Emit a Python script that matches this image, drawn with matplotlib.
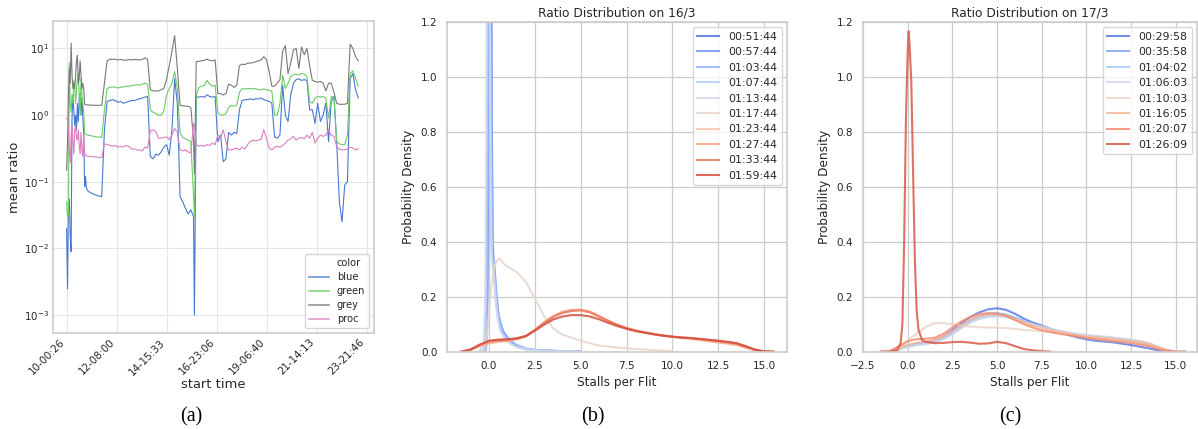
import datetime as dt
import matplotlib
matplotlib.use("Agg")
import matplotlib.pyplot as plt
from matplotlib.lines import Line2D
from matplotlib.ticker import NullLocator, LogLocator
from matplotlib import cm
import numpy as np

nan = float("nan")

# ---------------- Panel (a): mean ratio time series ----------------
start_stamp = "2020-03-10 00:26"
hours = list(range(0, 24)) + list(range(24, 142, 3)) + [142] + list(range(144, 325, 3))

blue = [
    0.02, 0.0025, 0.04, 0.055, 0.015, 0.009, 0.9, 2.0, 1.2, 0.7, 1.0, 0.6,
    1.5, 0.8, 1.8, 2.1, 1.0, 1.8, 0.9, 0.5, 0.085, 0.12, 0.08, 0.075,
    0.072, 0.068, 0.065, 0.063, 0.061, 0.06,
    0.6, 1.6, 1.65, 1.7, 1.65, 1.55, 1.6, 1.5, 1.55, 1.6, 1.65, 1.65, 1.7, 1.75, 1.8, 1.85, 1.9,
    0.24, 0.22, 0.26, 0.25, 0.28, 0.33, 0.36, 0.25, 0.6, 3.5, 1.5,
    0.06, 0.05, 0.04, 0.033, 0.038, 0.03,
    0.001,
    1.9, 1.85, 1.9, 1.85, 2.0, 1.9, 1.85, 1.9,
    0.4, 0.5, 0.2, 0.22, 0.55, 0.5, 0.55, 0.53,
    1.2, 1.65, 1.7, 1.7, 1.75, 1.7, 1.75, 1.75, 1.8, 1.7, 1.65, 1.6, 1.5,
    0.47, 0.45, 0.5,
    2.8, 1.0, 0.8, 2.0, 3.0, 3.4, 3.5, 3.3, 3.4, 3.3,
    1.2, 1.2, 0.75, 1.5, 0.8, 1.0, 1.5, 0.4, 1.6, 1.9,
    0.4, 0.05, 0.025, 0.09, 0.1, 3.5, 4.2, 2.4, 1.8,
]
green = [
    0.05, 0.03, 0.03, 6.0, 1.5, 1.1, 2.0, 1.5, 3.3, 2.5, 1.5, 2.5,
    3.5, 4.2, 2.0, 1.0, 3.5, 2.0, 1.5, 1.1, 0.53, 0.52, 0.51, 0.5,
    0.5, 0.49, 0.48, 0.47, 0.47, 0.46,
    1.2, 2.5, 2.6, 2.65, 2.6, 2.55, 2.6, 2.65, 2.7, 2.7, 2.75, 2.8, 2.85, 2.8, 2.9, 3.0, 2.9,
    1.2, 1.1, 1.05, 1.0, 1.0, 1.15, 2.0, 2.5, 3.0, 4.5, 2.5,
    0.55, 0.46, 0.44, 0.42, 0.4, 0.06,
    0.03,
    2.0, 2.6, 2.7, 2.8, 3.3, 2.9, 2.7, 2.8,
    1.1, 1.0, 1.0, 1.05, 1.3, 1.4, 1.35, 1.4,
    2.2, 2.5, 2.45, 2.5, 2.5, 2.45, 2.5, 2.4, 2.4, 2.45, 2.4, 2.35, 2.3,
    1.0, 1.0, 1.5,
    4.0, 2.5, 3.0, 3.8, 4.0, 4.1, 4.0, 4.2, 4.1, 3.8,
    1.6, 1.5, 1.8, 1.9, 1.85, 1.9, 1.8, 0.9, 1.9, 1.9,
    0.4, 0.37, 0.36, 0.36, 0.5, 4.2, 4.6, 3.5, 2.7,
]
grey = [
    0.15, 0.4, 2.0, 5.0, 3.0, 12.0, 4.0, 2.5, 3.0, 2.5, 4.0, 6.5,
    7.8, 3.0, 3.5, 6.5, 4.0, 2.5, 3.0, 2.5, 1.45, 1.43, 1.42, 1.42,
    1.42, 1.41, 1.4, 1.4, 1.4, 1.4,
    3.0, 6.5, 6.9, 6.8, 6.9, 6.7, 6.8, 6.7, 6.6, 6.8, 6.7, 6.8, 6.8, 6.7, 6.8, 7.2, 6.8,
    2.4, 2.3, 2.3, 2.3, 2.4, 2.5, 3.4, 5.5, 9.0, 15.5, 5.0,
    1.4, 1.38, 1.36, 1.35, 1.3, 0.42,
    0.13,
    6.3, 6.4, 6.5, 6.6, 6.9, 6.6, 6.5, 6.7,
    2.1, 2.1, 2.0, 2.1, 2.9, 2.8, 2.6, 2.8,
    5.5, 5.8, 5.7, 6.0, 6.0, 6.1, 6.3, 6.5, 6.7, 7.5, 6.8, 4.5, 2.7,
    2.7, 3.0, 3.4,
    9.0, 11.0, 4.2, 6.0, 9.5, 10.0, 5.0, 10.5, 8.0, 10.0,
    5.5, 3.3, 3.2, 3.1, 3.2, 3.0, 2.3, 3.0, 3.0, 2.2,
    1.5, 1.45, 1.45, 1.45, 1.5, 11.5, 10.0, 7.5, 6.5,
]
proc = [
    0.89, 0.85, 0.6, 0.3, 0.19, 0.5, 0.7, 0.4, 0.26, 0.6, 0.7, 0.45,
    0.42, 0.6, 0.35, 0.26, 0.55, 0.3, 0.24, 0.55, 0.26, 0.25, 0.25, 0.24,
    0.24, 0.24, 0.235, 0.235, 0.23, 0.23,
    0.37, 0.36, 0.35, 0.34, 0.35, 0.33, 0.34, 0.33, 0.35, 0.34, 0.31, 0.31, 0.3, 0.3, 0.29, 0.33, 0.32,
    0.58, 0.6, 0.57, 0.45, 0.45, 0.46, 0.47, 0.43, 0.5, 0.63, 0.55,
    0.3, 0.29, 0.3, 0.28, 0.27, 0.75,
    0.7,
    0.36, 0.34, 0.35, 0.34, 0.36, 0.35, 0.38, 0.36,
    0.5, 0.45, 0.6, 0.4, 0.3, 0.3, 0.31, 0.32,
    0.3, 0.33, 0.31, 0.36, 0.4, 0.42, 0.41, 0.42, 0.43, 0.6, 0.45, 0.32, 0.3,
    0.33, 0.34, 0.33,
    0.35, 0.38, 0.42, 0.44, 0.48, 0.42, 0.45, 0.46, 0.44, 0.5,
    0.45, 0.55, 0.38, 0.45, 0.5, 0.48, 0.5, 0.6, 0.5, 0.48,
    0.34, 0.31, 0.3, 0.3, 0.31, 0.33, 0.32, 0.3, 0.31,
]
series_a_names = ["blue", "green", "grey", "proc"]
series_a_colors = ["#4878d0", "#6acc64", "#797979", "#dc7ec0"]
tick_labels_a = ["10-00:26", "12-08:00", "14-15:33", "16-23:06",
                 "19-06:40", "21-14:13", "23-21:46"]

# ---------------- Panel (b): 16/3 ----------------
b_labels = ["00:51:44", "00:57:44", "01:03:44", "01:07:44", "01:13:44",
            "01:17:44", "01:23:44", "01:27:44", "01:33:44", "01:59:44"]
b_x_fine = [-0.5, -0.3, -0.2, -0.15, -0.1, -0.05, 0.0, 0.05, 0.1, 0.15, 0.2, 0.25,
            0.3, 0.4, 0.5, 0.6, 0.7, 0.8, 1.0, 1.2, 1.5, 2.0, 2.5, 3.0, 3.5, 4.0,
            5.0, 6.0, 7.0, 8.0, 9.0, 10.0]
b_x_wide = [-1.5, -1.0, -0.5, 0.0, 0.5, 1.0, 1.5, 2.0, 2.5, 3.0, 3.5, 4.0, 4.5,
            5.0, 5.5, 6.0, 6.5, 7.0, 7.5, 8.0, 8.5, 9.0, 9.5, 10.0, 10.5, 11.0,
            11.5, 12.0, 12.5, 13.0, 13.5, 14.0, 14.5, 15.0, 15.5]
b_00_51_44 = [0, 0, 0.005, 0.02, 0.1, 0.6, 2.0, 3.4, 2.2, 0.9, 0.4, 0.33, 0.3, 0.2,
              0.14, 0.11, 0.085, 0.07, 0.05, 0.035, 0.022, 0.01, 0.006, 0.004, 0.003,
              0.002, 0.001, nan, nan, nan, nan, nan]
b_00_57_44 = [0, 0.002, 0.01, 0.04, 0.25, 1.2, 3.0, 2.6, 1.0, 0.4, 0.33, 0.32, 0.28,
              0.18, 0.13, 0.1, 0.08, 0.066, 0.048, 0.034, 0.02, 0.01, 0.006, 0.004,
              0.003, 0.002, 0.001, nan, nan, nan, nan, nan]
b_01_03_44 = [0, 0.001, 0.008, 0.03, 0.15, 0.8, 2.2, 3.0, 1.8, 0.7, 0.34, 0.33, 0.31,
              0.22, 0.15, 0.11, 0.09, 0.072, 0.055, 0.04, 0.025, 0.012, 0.007, 0.004,
              0.003, 0.002, 0.001, nan, nan, nan, nan, nan]
b_01_07_44 = [0, 0.01, 0.05, 0.3, 1.3, 2.8, 2.0, 0.9, 0.45, 0.34, 0.32, 0.3, 0.26,
              0.17, 0.12, 0.09, 0.07, 0.058, 0.042, 0.03, 0.018, 0.009, 0.005, 0.003,
              0.002, 0.001, 0.0005, nan, nan, nan, nan, nan]
b_01_13_44 = [0.002, 0.03, 0.2, 0.7, 1.6, 2.6, 2.4, 1.2, 0.6, 0.36, 0.3, 0.28, 0.24,
              0.16, 0.11, 0.08, 0.065, 0.054, 0.04, 0.028, 0.017, 0.008, 0.005, 0.003,
              0.002, 0.001, 0.0005, nan, nan, nan, nan, nan]
b_01_17_44 = [0.0, 0.004, 0.015, 0.035, 0.065, 0.105, 0.145, 0.188, 0.22, 0.248, 0.272,
              0.29, 0.31, 0.328, 0.336, 0.338, 0.33, 0.32, 0.31, 0.302, 0.29, 0.255,
              0.195, 0.13, 0.085, 0.062, 0.04, 0.022, 0.015, 0.01, 0.006, 0.002]
b_01_23_44 = [0.0, 0.006, 0.02, 0.03, 0.035, 0.038, 0.045, 0.055, 0.078, 0.105, 0.128,
              0.142, 0.15, 0.152, 0.145, 0.128, 0.112, 0.097, 0.085, 0.076, 0.069,
              0.063, 0.058, 0.054, 0.05, 0.046, 0.042, 0.037, 0.033, 0.029, 0.024,
              0.014, 0.005, 0.001, 0.0]
b_01_27_44 = [0.0, 0.007, 0.022, 0.033, 0.038, 0.04, 0.046, 0.056, 0.08, 0.107, 0.13,
              0.145, 0.152, 0.153, 0.146, 0.13, 0.113, 0.098, 0.086, 0.077, 0.07,
              0.064, 0.059, 0.055, 0.052, 0.049, 0.045, 0.04, 0.035, 0.031, 0.026,
              0.016, 0.006, 0.001, 0.0]
b_01_33_44 = [0.0, 0.008, 0.025, 0.038, 0.042, 0.043, 0.047, 0.056, 0.078, 0.104,
              0.126, 0.141, 0.148, 0.15, 0.143, 0.128, 0.112, 0.098, 0.086, 0.077,
              0.07, 0.064, 0.059, 0.055, 0.052, 0.05, 0.047, 0.043, 0.039, 0.035,
              0.03, 0.019, 0.007, 0.001, 0.0]
b_01_59_44 = [0.0, 0.008, 0.026, 0.04, 0.044, 0.045, 0.049, 0.057, 0.076, 0.098,
              0.117, 0.128, 0.133, 0.133, 0.128, 0.118, 0.105, 0.093, 0.083, 0.075,
              0.069, 0.063, 0.058, 0.054, 0.051, 0.049, 0.046, 0.043, 0.04, 0.036,
              0.031, 0.02, 0.008, 0.001, 0.0]
b_values = [b_00_51_44, b_00_57_44, b_01_03_44, b_01_07_44, b_01_13_44,
            b_01_17_44, b_01_23_44, b_01_27_44, b_01_33_44, b_01_59_44]
b_grids = [b_x_fine] * 6 + [b_x_wide] * 4

# ---------------- Panel (c): 17/3 ----------------
c_labels = ["00:29:58", "00:35:58", "01:04:02", "01:06:03",
            "01:10:03", "01:16:05", "01:20:07", "01:26:09"]
c_x_fine = [-1.0, -0.6, -0.4, -0.3, -0.2, -0.1, 0.0, 0.05, 0.1, 0.2, 0.3, 0.4, 0.5,
            0.6, 0.8, 1.0, 1.5, 2.0, 2.5, 3.0, 3.5, 4.0, 4.5, 5.0, 5.5, 6.0, 6.5,
            7.0, 7.5, 8.0]
c_x_wide = b_x_wide
c_00_29_58 = [0.0, 0.001, 0.01, 0.022, 0.03, 0.034, 0.04, 0.055, 0.078, 0.103, 0.126,
              0.143, 0.154, 0.158, 0.152, 0.138, 0.12, 0.106, 0.095, 0.083, 0.072,
              0.061, 0.052, 0.045, 0.04, 0.037, 0.034, 0.029, 0.024, 0.018, 0.012,
              0.005, 0.001, 0.0, 0.0]
c_00_35_58 = [0.0, 0.001, 0.009, 0.02, 0.027, 0.031, 0.037, 0.05, 0.07, 0.094, 0.115,
              0.13, 0.138, 0.14, 0.135, 0.124, 0.111, 0.1, 0.09, 0.081, 0.073, 0.066,
              0.06, 0.056, 0.053, 0.05, 0.047, 0.043, 0.039, 0.034, 0.026, 0.014,
              0.005, 0.001, 0.0]
c_01_04_02 = [0.0, 0.001, 0.008, 0.018, 0.025, 0.029, 0.035, 0.047, 0.066, 0.088,
              0.108, 0.122, 0.13, 0.132, 0.129, 0.12, 0.109, 0.099, 0.09, 0.082,
              0.075, 0.068, 0.063, 0.059, 0.056, 0.053, 0.05, 0.046, 0.042, 0.037,
              0.029, 0.017, 0.006, 0.001, 0.0]
c_01_06_03 = [0.0, 0.001, 0.008, 0.018, 0.024, 0.028, 0.034, 0.045, 0.063, 0.085,
              0.105, 0.119, 0.126, 0.128, 0.126, 0.118, 0.108, 0.099, 0.091, 0.083,
              0.076, 0.07, 0.065, 0.061, 0.058, 0.055, 0.052, 0.048, 0.044, 0.039,
              0.031, 0.019, 0.007, 0.001, 0.0]
c_01_10_03 = [0.0, 0.0, 0.012, 0.04, 0.067, 0.09, 0.104, 0.104, 0.1, 0.095, 0.091,
              0.089, 0.088, 0.087, 0.086, 0.083, 0.079, 0.077, 0.075, 0.072, 0.069,
              0.064, 0.059, 0.054, 0.049, 0.046, 0.042, 0.037, 0.033, 0.03, 0.023,
              0.012, 0.005, 0.001, 0.0]
c_01_16_05 = [0.0, 0.002, 0.012, 0.025, 0.032, 0.036, 0.042, 0.055, 0.074, 0.097,
              0.116, 0.129, 0.135, 0.136, 0.131, 0.12, 0.107, 0.096, 0.087, 0.079,
              0.072, 0.066, 0.06, 0.056, 0.053, 0.05, 0.047, 0.044, 0.04, 0.035,
              0.028, 0.016, 0.006, 0.001, 0.0]
c_01_20_07 = [0.0, 0.003, 0.02, 0.038, 0.046, 0.047, 0.05, 0.065, 0.088, 0.11, 0.127,
              0.137, 0.14, 0.138, 0.13, 0.115, 0.1, 0.088, 0.078, 0.071, 0.065, 0.06,
              0.055, 0.05, 0.046, 0.042, 0.038, 0.035, 0.031, 0.026, 0.02, 0.01,
              0.003, 0.0, 0.0]
c_01_26_09 = [0.0, 0.006, 0.03, 0.1, 0.4, 0.85, 1.1, 1.165, 1.12, 0.98, 0.65, 0.33,
              0.15, 0.08, 0.042, 0.036, 0.031, 0.032, 0.035, 0.036, 0.033, 0.029,
              0.03, 0.036, 0.031, 0.02, 0.01, 0.005, 0.002, 0.0]
c_values = [c_00_29_58, c_00_35_58, c_01_04_02, c_01_06_03,
            c_01_10_03, c_01_16_05, c_01_20_07, c_01_26_09]
c_grids = [c_x_wide] * 7 + [c_x_fine]

for s in (blue, green, grey, proc):
    assert len(s) == len(hours), (len(s), len(hours))
for g, v in zip(b_grids, b_values):
    assert len(g) == len(v)
for g, v in zip(c_grids, c_values):
    assert len(g) == len(v)

# ---------------- Styling ----------------
plt.rcParams.update({
    "font.family": "DejaVu Sans",
    "text.color": "0.15", "axes.labelcolor": "0.15",
    "xtick.color": "0.15", "ytick.color": "0.15",
    "xtick.major.size": 0, "ytick.major.size": 0,
    "xtick.minor.size": 0, "ytick.minor.size": 0,
})

W, H = 1198, 429
fig = plt.figure(figsize=(W / 100, H / 100), dpi=100)


def box(l, t, r, b):
    return [l / W, 1 - b / H, (r - l) / W, (b - t) / H]


ax_a = fig.add_axes(box(53.3, 21, 374, 333))
ax_b = fig.add_axes(box(447, 21.7, 787, 351.7))
ax_c = fig.add_axes(box(862.7, 21.7, 1197.3, 351.7))

# Panel (a)
base = dt.datetime.strptime(start_stamp, "%Y-%m-%d %H:%M")
times = [base + dt.timedelta(hours=h) for h in hours]
for name, col, vals in zip(series_a_names, series_a_colors, [blue, green, grey, proc]):
    ax_a.plot(times, vals, color=col, lw=0.8, label=name)
ax_a.set_yscale("log")
ax_a.set_ylim(5.4e-4, 25.7)
ax_a.yaxis.set_major_locator(LogLocator(base=10, numticks=10))
ax_a.yaxis.set_minor_locator(NullLocator())
tick_dates = [base.replace(day=int(s[:2]), hour=int(s[3:5]), minute=int(s[6:8]))
              for s in tick_labels_a]
ax_a.set_xticks(tick_dates)
ax_a.set_xticklabels(tick_labels_a, rotation=45, ha="right")
ax_a.set_xlim(base + dt.timedelta(hours=-14.8), base + dt.timedelta(hours=341.5))
ax_a.grid(True, color="#e6e6e6", lw=0.8)
ax_a.set_axisbelow(True)
for sp in ax_a.spines.values():
    sp.set_color("#cccccc")
    sp.set_linewidth(1.2)
ax_a.tick_params(labelsize=7.4, pad=3)
ax_a.set_xlabel("start time", fontsize=9.4, labelpad=1)
ax_a.set_ylabel("mean ratio", fontsize=9.4, labelpad=2)
handles = [Line2D([], [], color="none")] + [Line2D([], [], color=c, lw=1.2, alpha=0.8)
                                            for c in series_a_colors]
ax_a.legend(handles, ["color"] + series_a_names, loc="lower right", fontsize=7.1,
            frameon=True, edgecolor="0.8", handlelength=2.0, labelspacing=0.4)


def kde_panel(ax, labels, grids, values, title, xlim):
    pal = cm.coolwarm(np.linspace(0, 1, len(labels) + 2)[1:-1])
    for lab, g, v, col in zip(labels, grids, values, pal):
        ax.plot(g, v, color=col, lw=1.5, alpha=0.85, label=lab)
    ax.set_xlim(*xlim)
    ax.set_ylim(0, 1.2)
    ax.set_yticks([0.0, 0.2, 0.4, 0.6, 0.8, 1.0, 1.2])
    ax.grid(True, color="#cccccc", lw=0.9)
    ax.set_axisbelow(True)
    for sp in ax.spines.values():
        sp.set_color("#cccccc")
        sp.set_linewidth(1.2)
    ax.tick_params(labelsize=7.5, pad=7)
    ax.set_title(title, fontsize=8.8, pad=3.5)
    ax.set_xlabel("Stalls per Flit", fontsize=8.7, labelpad=3)
    ax.set_ylabel("Probability Density", fontsize=8.7, labelpad=4)
    ax.legend(loc="upper right", fontsize=7.9, frameon=True, edgecolor="0.8",
              handlelength=2.0)


kde_panel(ax_b, b_labels, b_grids, b_values, "Ratio Distribution on 16/3", (-2.29, 16.25))
ax_b.set_xticks([0, 2.5, 5, 7.5, 10, 12.5, 15])
kde_panel(ax_c, c_labels, c_grids, c_values, "Ratio Distribution on 17/3", (-2.52, 16.2))
ax_c.set_xticks([-2.5, 0, 2.5, 5, 7.5, 10, 12.5, 15])

for lab, xc in (("(a)", 191.7), ("(b)", 593.3), ("(c)", 1010)):
    fig.text(xc / W, 1 - 416.5 / H, lab, ha="center", va="center",
             family="Liberation Serif", fontsize=14.5, color="black")

fig.savefig("out.png", dpi=100)
